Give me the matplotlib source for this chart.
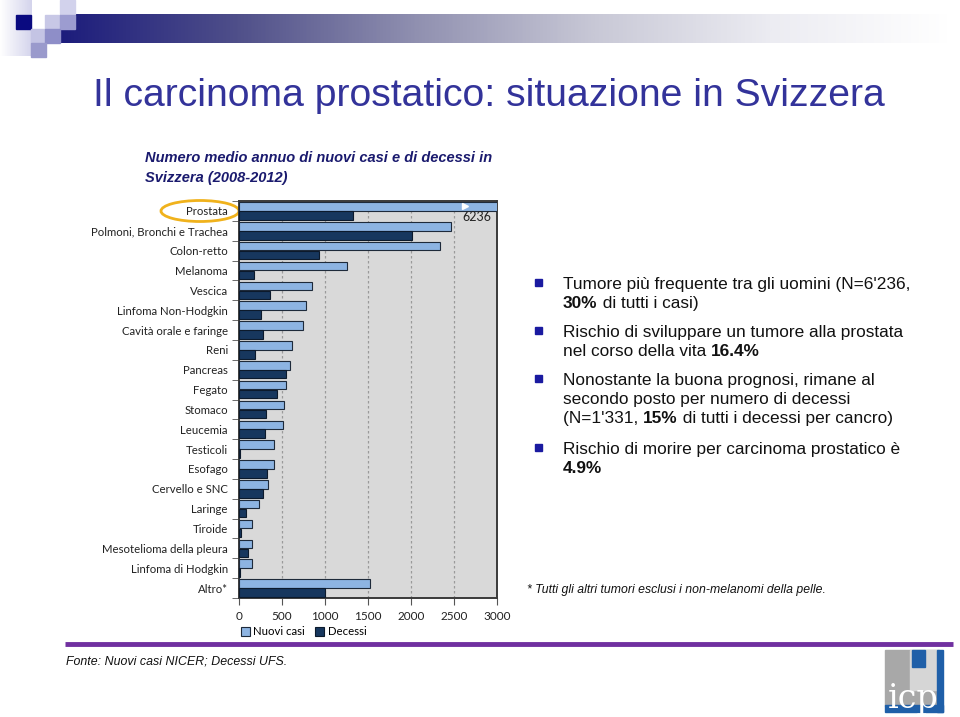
import numpy as np
import matplotlib
matplotlib.use("Agg")
import matplotlib.pyplot as plt
from matplotlib.patches import Rectangle, Ellipse
from matplotlib.colors import LinearSegmentedColormap
from matplotlib.font_manager import FontProperties

# ---------------- data ----------------
categories = ["Prostata", "Polmoni, Bronchi e Trachea", "Colon-retto", "Melanoma",
              "Vescica", "Linfoma Non-Hodgkin", "Cavità orale e faringe", "Reni",
              "Pancreas", "Fegato", "Stomaco", "Leucemia", "Testicoli", "Esofago",
              "Cervello e SNC", "Laringe", "Tiroide", "Mesotelioma della pleura",
              "Linfoma di Hodgkin", "Altro*"]
nuovi_casi = [6236, 2464, 2339, 1259, 851, 781, 746, 614, 591, 541, 525, 513,
              412, 404, 342, 230, 156, 152, 148, 1520]
decessi = [1331, 2017, 925, 179, 366, 261, 284, 191, 541, 447, 319, 300,
           15, 327, 276, 78, 20, 110, 12, 999]
xticks = [0, 500, 1000, 1500, 2000, 2500, 3000]
series_names = ["Nuovi casi", "Decessi"]

W, H = 960, 717
fig = plt.figure(figsize=(W / 100, H / 100), dpi=100)

def px(x, y):
    return x / W, 1 - y / H

LABEL_FONT = ["Lato", "DejaVu Sans"]
ARIAL = ["Liberation Sans", "DejaVu Sans"]

# ---------------- header decoration ----------------
deco = fig.add_axes([0, 0, 1, 1], zorder=0)
deco.set_xlim(0, W)
deco.set_ylim(H, 0)
deco.axis("off")

grad = np.linspace(0, 1, 512)[None, :]
cmap_bar = LinearSegmentedColormap.from_list(
    "b", ["#1c1c7c", "#50508a", "#9090b0", "#c8c8d6", "#ececf2", "#ffffff"])
deco.imshow(grad, extent=(60, 950, 43, 14), cmap=cmap_bar, aspect="auto", zorder=1)
cmap_left = LinearSegmentedColormap.from_list("l", ["#ffffff", "#d4d4ec"])
deco.imshow(grad, extent=(0, 32, 56, 0), cmap=cmap_left, aspect="auto", zorder=1)
for (x0, y0, c) in [(16, 15, "#0a0a80"), (45, 15, "#c8c8e6"), (60, 0, "#d2d2ec"),
                    (60, 15, "#9c9cd0"), (31, 29, "#c4c4e4"), (45, 29, "#8e8ec8"),
                    (31, 43, "#9a9acc")]:
    deco.add_patch(Rectangle((x0, y0), 15, 14, color=c, zorder=2))

# purple line
deco.plot([65, 953], [644, 644], color="#7030a0", lw=3.5, solid_capstyle="butt", zorder=2)

# logo
deco.add_patch(Rectangle((885, 650), 54, 56, color="#a8a8a8", zorder=2))
deco.add_patch(Rectangle((910, 650), 29, 40, color="#d6d6d6", zorder=3))
deco.add_patch(Rectangle((912, 650), 13, 17, color="#1f5fa8", zorder=4))
deco.add_patch(Rectangle((937, 650), 6, 62, color="#1f5fa8", zorder=4))
deco.add_patch(Rectangle((885, 705), 58, 7, color="#1f5fa8", zorder=4))
deco.text(888, 708, "icp", color="white", fontsize=24, family="DejaVu Serif",
          ha="left", va="baseline", zorder=5)

# title
fig.text(*px(93, 96), "Il carcinoma prostatico: situazione in Svizzera",
         fontsize=28.2, color="#33339a", family=ARIAL, ha="left", va="center")
fig.text(*px(145, 158), "Numero medio annuo di nuovi casi e di decessi in",
         fontsize=10.5, color="#1a1a6e", family=ARIAL, weight="bold", style="italic",
         ha="left", va="center")
fig.text(*px(145, 178), "Svizzera (2008-2012)",
         fontsize=10.5, color="#1a1a6e", family=ARIAL, weight="bold", style="italic",
         ha="left", va="center")

# ---------------- bar chart ----------------
left, right, top, bottom = 239, 497, 201, 598
ax = fig.add_axes([left / W, 1 - bottom / H, (right - left) / W, (bottom - top) / H], zorder=2)
n = len(categories)
y = np.arange(n)
h = 0.43
ax.set_facecolor("#d9d9d9")
ax.barh(y - 0.225, nuovi_casi, height=h, color="#8db4e2", edgecolor="#1e2a3a",
        linewidth=0.8, label=series_names[0], zorder=3)
ax.barh(y + 0.225, decessi, height=h, color="#17375e", edgecolor="#0c1a2c",
        linewidth=0.8, label=series_names[1], zorder=3)
ax.set_xlim(xticks[0], xticks[-1])
ax.set_ylim(n - 0.5, -0.5)
ax.set_xticks(xticks)
ax.set_xticklabels([str(t) for t in xticks], family=LABEL_FONT, fontsize=8.5, color="#222222")
ax.set_yticks(y)
ax.set_yticklabels(categories, family=LABEL_FONT, fontsize=8.2, color="#222222")
ax.set_yticks(np.arange(n + 1) - 0.5, minor=True)
ax.tick_params(axis="y", which="major", length=0, pad=8)
ax.tick_params(axis="y", which="minor", length=5, color="#555555", direction="out")
ax.tick_params(axis="x", length=5, color="#555555", direction="out", pad=4)
for xv in xticks[1:-1]:
    ax.axvline(xv, color="#9a9a9a", lw=0.9, linestyle=(0, (2, 2)), zorder=1)
for s in ax.spines.values():
    s.set_color("#3a3a3a")
    s.set_linewidth(1.4)

# break mark and value label for the first (clipped) bar
ax.plot([2630], [0 - 0.225], marker=">", color="white", markersize=5, zorder=5)
ax.text(2600, 0 + 0.32, f"{nuovi_casi[0]}", family=LABEL_FONT, fontsize=9,
        color="#222222", ha="left", va="center", zorder=5)

leg = ax.legend(loc="upper center", bbox_to_anchor=(0.25, -0.06), ncol=2, frameon=False,
                prop={"family": LABEL_FONT, "size": 8.2}, handlelength=0.8, handleheight=0.8,
                handletextpad=0.3, columnspacing=0.9, borderaxespad=0)

# highlight ellipse around "Prostata"
deco.add_patch(Ellipse((200, 211), 78, 21, fill=False, edgecolor="#f0b21c", lw=2, zorder=6))

# ---------------- right text ----------------
fig.canvas.draw()
renderer = fig.canvas.get_renderer()
BODY = 12.4

def rich_line(x, yy, parts, size=BODY):
    cx = x
    base = yy + 5
    for txt, bold in parts:
        fp = FontProperties(family=ARIAL, size=size, weight="bold" if bold else "normal")
        deco.text(cx, base, txt, fontproperties=fp, color="#111111",
                  ha="left", va="baseline", zorder=5)
        w, _, _ = renderer.get_text_width_height_descent(txt, fp, ismath=False)
        cx += w * 72.0 / fig.dpi * fig.dpi / 72.0

lines = [
    (284, [("Tumore più frequente tra gli uomini (N=6'236,", False)], True),
    (303, [("30%", True), (" di tutti i casi)", False)], False),
    (332, [("Rischio di sviluppare un tumore alla prostata", False)], True),
    (351, [("nel corso della vita ", False), ("16.4%", True)], False),
    (380, [("Nonostante la buona prognosi, rimane al", False)], True),
    (399, [("secondo posto per numero di decessi", False)], False),
    (418, [("(N=1'331, ", False), ("15%", True), (" di tutti i decessi per cancro)", False)], False),
    (449, [("Rischio di morire per carcinoma prostatico è", False)], True),
    (468, [("4.9%", True)], False),
]
for yy, parts, bullet in lines:
    rich_line(563, yy, parts)
    if bullet:
        deco.add_patch(Rectangle((535, yy - 5), 6.5, 6.5, color="#1a1aa0", zorder=5))

deco.text(527, 590, "* Tutti gli altri tumori esclusi i non-melanomi della pelle.",
          fontsize=8.8, family=ARIAL, style="italic", color="#111111",
          ha="left", va="center", zorder=5)
deco.text(66, 662, "Fonte: Nuovi casi NICER; Decessi UFS.",
          fontsize=8.9, family=ARIAL, style="italic", color="#111111",
          ha="left", va="center", zorder=5)

fig.savefig("out.png", dpi=100)
